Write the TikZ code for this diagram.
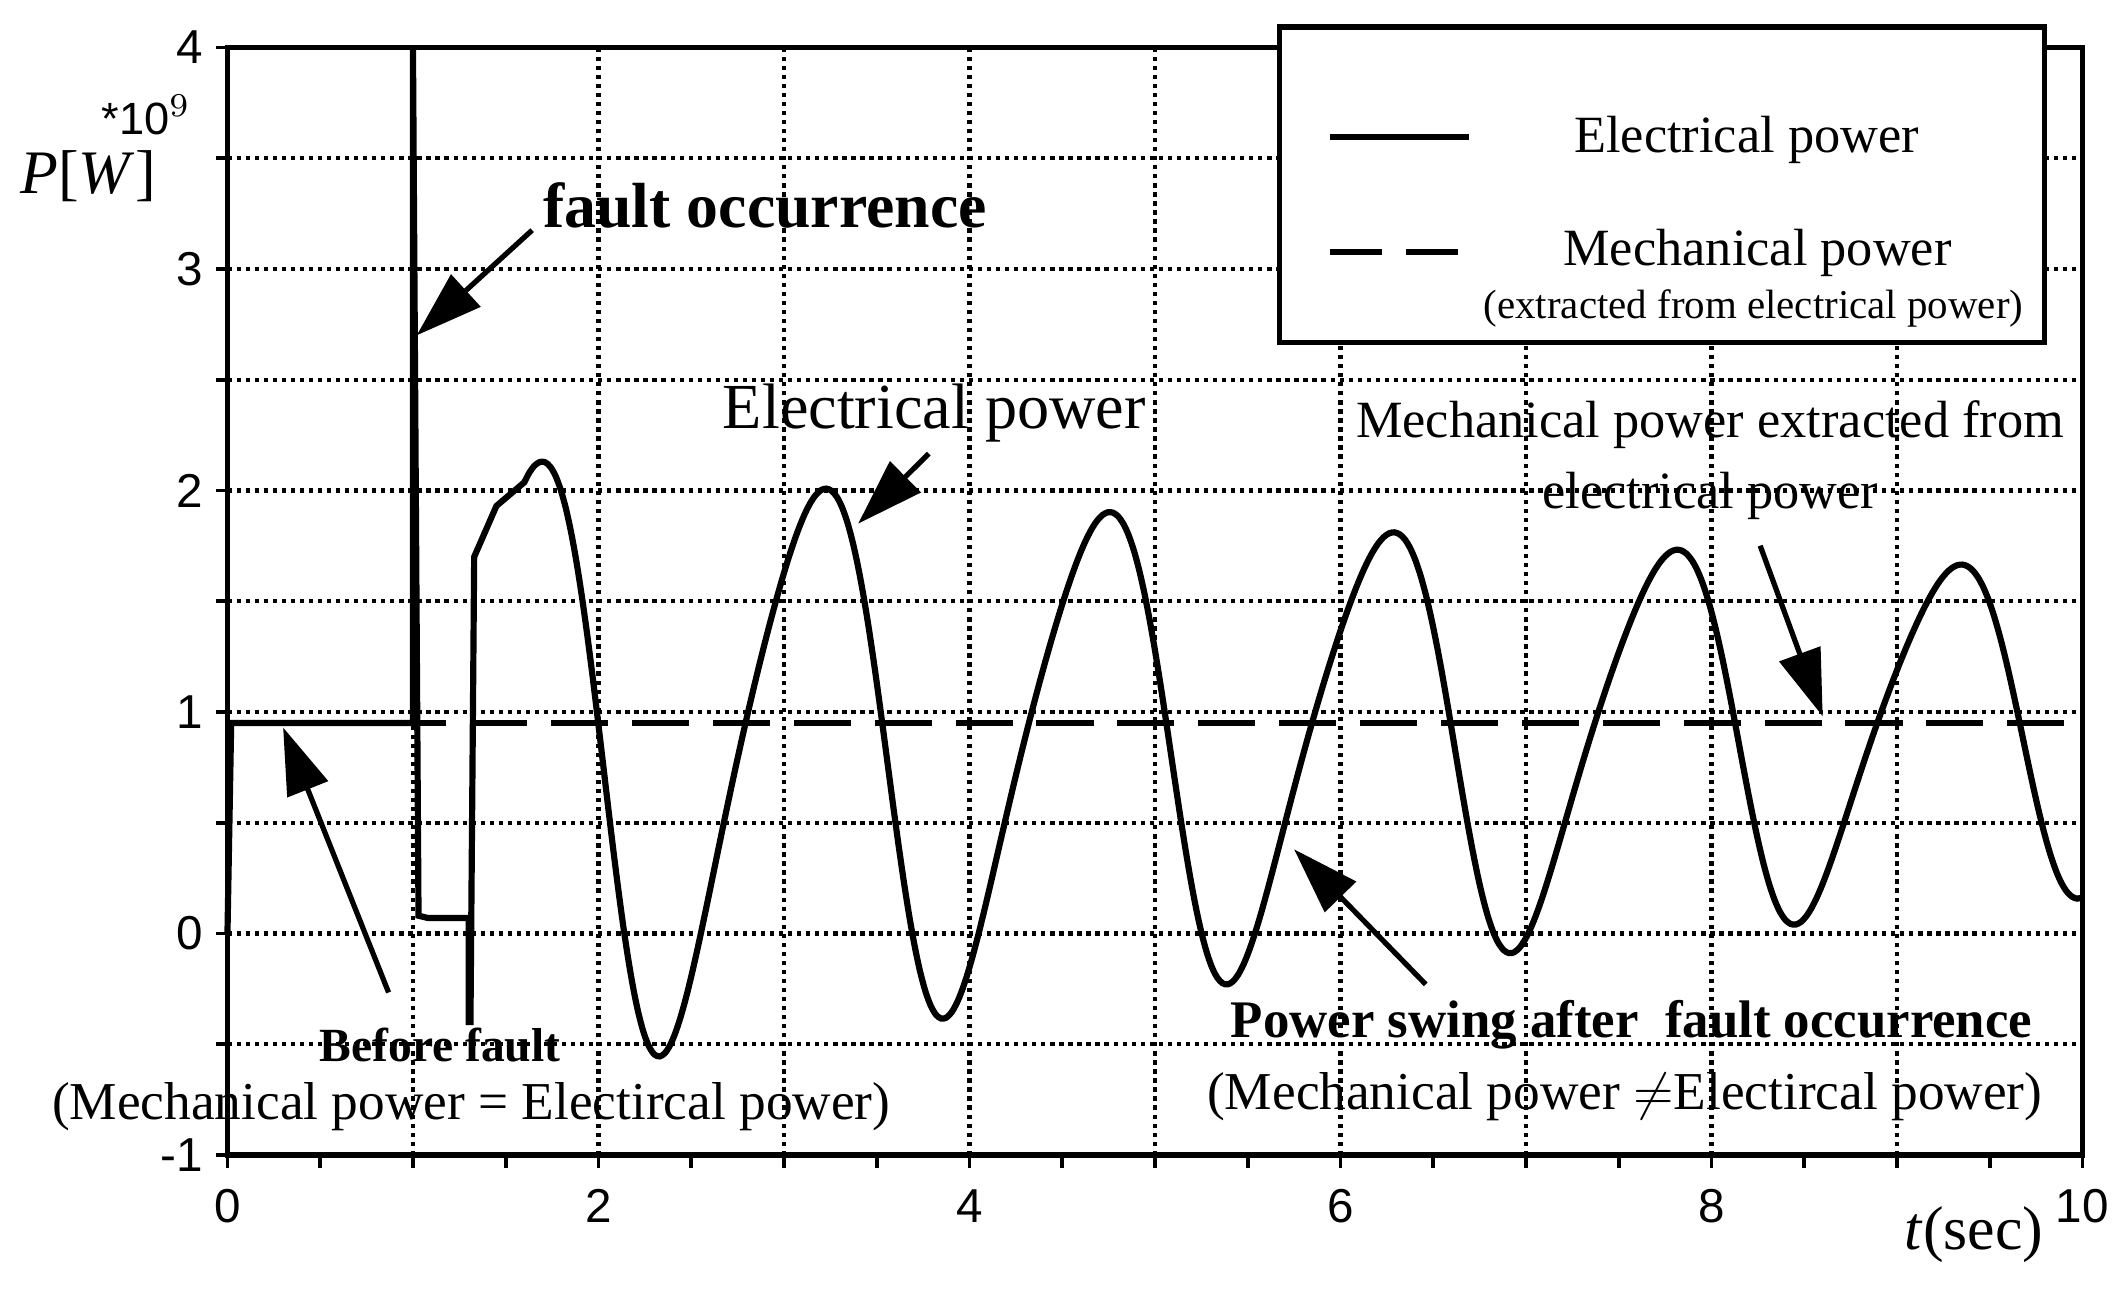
\documentclass[tikz,border=0pt]{standalone}
\usepackage{fontspec}
\setmainfont{Liberation Serif}
\newfontfamily\ticksf{Liberation Sans}
\usetikzlibrary{arrows.meta}
\begin{document}
\begin{tikzpicture}[
  grid/.style={densely dotted, line width=0.9pt},
  curve/.style={line width=1.3pt, line join=round},
  mech/.style={line width=1.3pt, dash pattern=on 12pt off 5pt},
  pointer/.style={line width=1.1pt, -{Triangle[length=14pt,width=9pt]}},
  tick/.style={font=\ticksf\fontsize{10}{11}\selectfont}
]
\useasboundingbox (0,0) rectangle (15.68,-9.57);
\fill[white] (0,0) rectangle (15.68,-9.57);
\begin{scope}[shift={(1.68,-6.894)}, x=1.37cm, y=1.636cm]
  \foreach \xx in {1,...,9} \draw[grid] (\xx,-1) -- (\xx,4);
  \foreach \yy in {-0.5,0,0.5,...,3.5} \draw[grid] (0,\yy) -- (10,\yy);
  \draw[line width=1.2pt] (0,-1) rectangle (10,4);
  \foreach \xx in {0,0.5,...,10} \draw[line width=0.8pt] (\xx,-1) -- (\xx,-1.06);
  \foreach \yy in {-1,-0.5,...,4} \draw[line width=0.8pt] (0,\yy) -- (-0.06,\yy);
  \foreach \xx in {0,2,4,6,8,10} \node[tick, anchor=north] (xt\xx) at (\xx,-1.08) {\xx};
  \foreach \yy in {-1,0,1,2,3,4} \node[tick, anchor=east] (yt\yy) at (-0.04,\yy) {\yy};
  \draw[mech] (0,0.95) -- (10,0.95);
  \draw[curve, line join=miter] (0,0) -- (0.02,0.95) -- (1.0,0.95) -- (1.0,4) -- (1.03,0.08) -- (1.08,0.07) -- (1.3,0.07) -- (1.3,-0.4) -- (1.31,-0.4) -- (1.33,1.7) -- (1.45,1.93)
    -- plot[domain=1.6:10, samples=300, smooth] (\x, {0.75+0.018*(\x-1.7) + 1.38*exp(-0.075*(\x-1.7))*cos(deg(2*pi*(\x-1.7)/1.53 + 0.3*(1-cos(deg(2*pi*(\x-1.7)/1.53)))))});
  \coordinate (faulttip) at (1.02,2.7);
  \coordinate (eltip) at (3.4,1.85);
  \coordinate (mechtip) at (8.6,0.98);
  \coordinate (beftip) at (0.3,0.93);
  \coordinate (swingtip) at (5.75,0.38);
\end{scope}
\node[font=\ticksf\fontsize{9.5}{11}\selectfont] (mult) at (1.08,-0.85) {*10$^{9}$};
\node[font=\fontsize{13}{15}\selectfont] (plab) at (0.65,-1.3) {\textit{P}[\textit{W}]};
\node[font=\fontsize{13}{15}\selectfont] (tlab) at (14.58,-9.12) {\textit{t}(sec)};
\draw[line width=1.2pt, fill=white] (9.45,-0.2) rectangle (15.1,-2.53);
\coordinate (l1a) at (9.82,-1.01); \coordinate (l1b) at (10.85,-1.01);
\coordinate (l2a) at (9.82,-1.86); \coordinate (l2b) at (10.85,-1.86);
\draw[line width=1.3pt] (l1a) -- (l1b);
\draw[line width=1.3pt, dash pattern=on 11pt off 5pt] (l2a) -- (l2b);
\node[font=\fontsize{11}{13}\selectfont] (leg1) at (12.9,-1.03) {Electrical power};
\node[font=\fontsize{11}{13}\selectfont] (leg2) at (12.98,-1.87) {Mechanical power};
\node[font=\fontsize{8.6}{10}\selectfont] (leg3) at (12.95,-2.28) {(extracted from electrical power)};
\node[font=\bfseries\fontsize{13.4}{15}\selectfont] (fault) at (5.65,-1.52) {fault occurrence};
\draw[pointer] (3.93,-1.7) -- (faulttip);
\node[font=\fontsize{13.5}{15}\selectfont] (elp) at (6.9,-3.05) {Electrical power};
\draw[pointer] (6.86,-3.35) -- (eltip);
\node[font=\fontsize{11}{13}\selectfont, align=center] (mtext) at (12.63,-3.4) {Mechanical power extracted from\\[2pt]electrical power};
\draw[pointer] (13.0,-4.03) -- (mechtip);
\node[font=\bfseries\fontsize{10}{12}\selectfont] (bef) at (3.25,-7.72) {Before fault};
\node[font=\fontsize{11.2}{13}\selectfont] (befsub) at (3.48,-8.17) {(Mechanical power = Electircal power)};
\draw[pointer] (2.87,-7.33) -- (beftip);
\node[font=\bfseries\fontsize{11.1}{13}\selectfont] (swing) at (12.05,-7.57) {Power swing after\ \ fault occurrence};
\node[font=\fontsize{11.2}{13}\selectfont] (swingsub) at (12.0,-8.1) {(Mechanical power $\neq$Electircal power)};
\draw[pointer] (10.53,-7.27) -- (swingtip);
\end{tikzpicture}
\end{document}
